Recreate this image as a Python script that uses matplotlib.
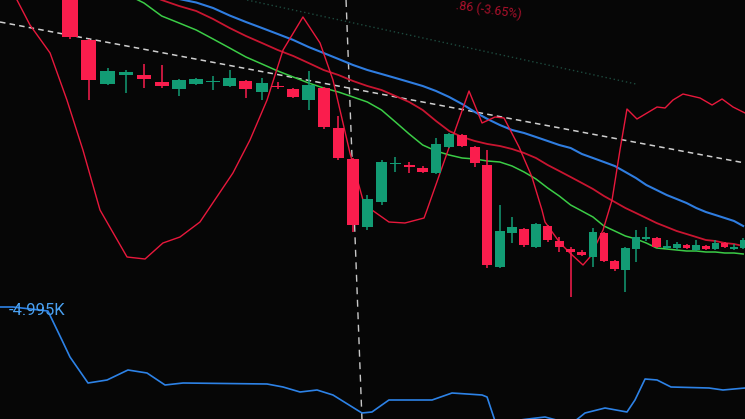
import numpy as np
import matplotlib.pyplot as plt

plt.rcParams['lines.scale_dashes'] = False

# candles: levels are read top-down (small value = high on the screen)
rising = [False, False, True, True, False, False, True, True, True, True,
          False, True, False, False, True, False, False, False, True, True,
          True, False, False, True, True, False, False, False, True, True,
          False, True, False, False, False, False, True, False, False, True,
          True, True, False, True, True, False, True, False, True, False,
          True, True]
body_top = [-15, 40, 71, 72, 75, 82, 80, 79, 81, 78,
            81, 83, 86, 89, 85, 88, 128, 159, 199, 162,
            163, 165, 168, 144, 134, 135, 147, 165, 231, 227,
            229, 224, 226, 241, 249, 252, 232, 233, 261, 248,
            237, 237, 238, 246, 244, 245, 245, 246, 243, 243,
            247, 240]
body_bot = [37, 80, 84, 75, 79, 86, 89, 84, 82, 86,
            89, 92, 87, 97, 100, 127, 158, 225, 227, 202,
            164, 167, 172, 173, 147, 146, 163, 265, 267, 233,
            245, 247, 240, 247, 252, 255, 257, 261, 269, 270,
            249, 239, 247, 248, 248, 248, 250, 249, 249, 247,
            249, 248]
wick_top = [-20, 39, 68, 70, 64, 65, 79, 78, 76, 70,
            80, 78, 82, 88, 71, 87, 116, 158, 195, 160,
            157, 162, 166, 138, 133, 134, 146, 150, 205, 217,
            228, 223, 225, 237, 247, 250, 228, 232, 260, 247,
            230, 227, 237, 240, 242, 244, 240, 245, 240, 242,
            244, 238]
wick_bot = [39, 100, 85, 93, 88, 88, 96, 85, 90, 87,
            98, 100, 89, 98, 110, 129, 160, 232, 230, 205,
            172, 173, 173, 174, 148, 147, 167, 268, 268, 243,
            247, 248, 242, 252, 297, 256, 267, 262, 271, 292,
            262, 241, 248, 249, 250, 249, 251, 250, 250, 248,
            250, 249]

# moving averages, one value per candle from their first candle
ma_blue_start = 5
ma_blue = [-5, -1, 2.5, 8, 15.5, 22, 28, 34, 40, 47,
           53, 59, 65, 70, 74, 78, 82, 86, 91, 97,
           104, 112, 119, 125, 130, 133, 137, 141, 145, 148,
           154, 158, 162, 166, 172, 178, 185, 190, 195, 199,
           203, 208, 212, 215, 218, 221, 226]
ma_red_start = 4
ma_red = [-7, 0, 6, 11, 19, 28, 36, 43, 50, 56,
          63, 70, 75, 81, 86, 90, 96, 102, 110, 121,
          131, 137, 141, 144, 146, 149, 153, 158, 165, 171,
          177, 183, 189, 196, 202, 208, 213, 218, 223, 227,
          231, 234, 237, 240, 241, 243, 244, 246]
ma_green_start = 3
ma_green = [-6, 3, 16, 23, 30, 39, 48, 57, 64, 71,
            77, 83, 88, 92, 97, 102, 110, 122, 134, 145,
            151, 155, 158, 159, 161, 162, 166, 172, 179, 188,
            196, 205, 211, 217, 226, 231, 236, 239, 243, 248,
            249, 250, 251, 251, 252, 252, 253, 253, 254]

# oscillator (thin red)
osc_x = [-3.1, -2.7, -2.05, -1.03, -0.16, 0.68, 1.59, 3.06, 4.06, 5.07,
         6.05, 7.22, 7.7, 9.2, 10.25, 11.32, 12.34, 13.63, 14.76, 15.63,
         16.79, 17.69, 18.32, 19.53, 20.69, 22.1, 22.32, 25.54, 26.57, 27.61,
         28.34, 29.58, 30.66, 31.51, 31.77, 33.07, 33.94, 35.1, 35.73, 36.92,
         37.75, 38.49, 39.15, 40.1, 41.07, 42.05, 42.84, 43.63, 44.64, 46.39,
         47.65, 48.71, 49.89, 51.2]
osc_y = [-15, 0, 25, 53, 100, 150, 210, 257, 259, 243,
         237, 222, 210, 173, 140, 100, 50, 17, 43, 80,
         153, 200, 210, 222, 223, 218, 210, 91, 123, 117,
         118, 147, 177, 210, 222, 243, 253, 265, 257, 230,
         200, 150, 109, 119, 113, 107, 108, 100, 94, 98,
         105, 99, 107, 113]

# lower panel line (volume delta)
vol_x = [-3.54, -2.9, -1.14, -0.42, 0, 0.95, 1.97, 3.11, 4.17, 5.19,
         6.23, 11.32, 12.34, 13.44, 14.56, 15.63, 17.62, 18.32, 19.53, 22.7,
         24.22, 26.57, 26.97, 27.61, 29.0, 30.33, 31.77, 33.07, 34.39, 35.28,
         37.1, 39.15, 39.91, 40.88, 42.05, 43.43, 47.33, 48.81, 51.2]
vol_y = [307, 307, 311, 340, 357, 383, 380, 370, 373, 385,
         383, 384, 387, 392, 390, 395, 413, 412, 400, 400,
         393, 395, 397, 421, 421, 419, 417, 421, 421, 413,
         408, 412, 400, 379, 380, 387, 388, 390, 388]

trend_x = [-3.54, 51.2]
trend_y = [22, 163]
dotted_x = [10.07, 40]
dotted_y = [0, 84]
cross_x = [16.52, 17.62]
cross_y = [0, 419]

# the photo is taken at an angle: candles get closer to the right
B = 0.00884
def fwd(i):
    i = np.asarray(i, dtype=float)
    return i / (1 + B * i)

def inv(f):
    f = np.asarray(f, dtype=float)
    return f / (1 - B * f)

bg = '#060606'
up_col = '#129c74'
dn_col = '#fa1d4d'

fig = plt.figure(figsize=(7.45, 4.19), dpi=100, facecolor=bg)
ax = fig.add_axes([0, 0, 1, 1])
ax.set_facecolor(bg)
ax.set_xscale('function', functions=(fwd, inv))
ax.set_xlim(-3.54, 51.2)
ax.set_ylim(419, 0)
ax.axis('off')

ax.plot(dotted_x, dotted_y, color='#1d4a3e', lw=1, ls=(0, (1, 2)))
ax.plot(trend_x, trend_y, color='#cfcfcf', lw=1.1, ls=(0, (4, 3)))
ax.plot(cross_x, cross_y, color='#c8c8c8', lw=1, ls=(0, (5, 4)))

ax.plot(np.arange(len(ma_blue)) + ma_blue_start, ma_blue, color='#2f7de0', lw=1.5)
ax.plot(np.arange(len(ma_red)) + ma_red_start, ma_red, color='#c81530', lw=1.3)
ax.plot(np.arange(len(ma_green)) + ma_green_start, ma_green, color='#3bcc46', lw=1.1)
ax.plot(osc_x, osc_y, color='#e8183c', lw=1.0)
ax.plot(vol_x, vol_y, color='#2d82e6', lw=1.2)

idx = np.arange(len(rising))
cols = [up_col if r else dn_col for r in rising]
heights = np.maximum(np.array(body_bot) - np.array(body_top), 1.5)
ax.vlines(idx, wick_top, wick_bot, colors=cols, lw=1.1, zorder=3)
ax.bar(idx, heights, bottom=body_top, width=0.8, color=cols, zorder=4)

fig.text(9 / 745, 1 - 315 / 419, '-4.995K', color='#4aa0f0', fontsize=12,
         family='Roboto', ha='left', va='baseline')
fig.text(522 / 745, 1 - 15 / 419, '.86 (-3.65%)', color='#a8102a',
         fontsize=9, family='Roboto', ha='right', va='center',
         rotation=-8, rotation_mode='anchor')

fig.savefig('out.png', dpi=100, facecolor=bg)
